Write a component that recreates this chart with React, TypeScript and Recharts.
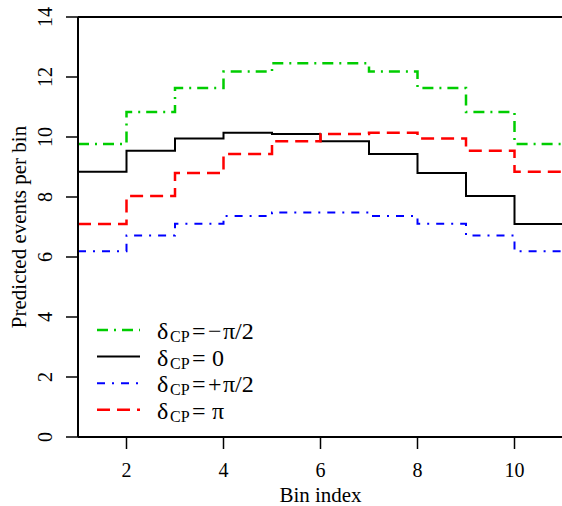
import React from "react";
import { LineChart, Line, XAxis, YAxis, ReferenceLine } from "recharts";

// bin edges 1..11, last value repeated so the final step reaches x = 11
const binEdges = [1, 2, 3, 4, 5, 6, 7, 8, 9, 10, 11];
const minusHalfPi = [9.77, 10.83, 11.63, 12.18, 12.46, 12.46, 12.18, 11.63, 10.83, 9.77, 9.77];
const zero = [8.84, 9.54, 9.95, 10.14, 10.1, 9.86, 9.43, 8.8, 8.03, 7.1, 7.1];
const plusHalfPi = [6.19, 6.72, 7.11, 7.37, 7.48, 7.48, 7.37, 7.11, 6.72, 6.19, 6.19];
const pi = [7.1, 8.03, 8.8, 9.43, 9.86, 10.1, 10.14, 9.95, 9.54, 8.84, 8.84];
const xTicks = [2, 4, 6, 8, 10];
const yTicks = [0, 2, 4, 6, 8, 10, 12, 14];

const data = binEdges.map((bin, i) => ({
  bin,
  minusHalfPi: minusHalfPi[i],
  zero: zero[i],
  plusHalfPi: plusHalfPi[i],
  pi: pi[i],
}));

const FONT = "'Liberation Serif', 'DejaVu Serif', serif";

// sign: "" when the value has no sign
const series = [
  { key: "minusHalfPi", color: "#00cd00", dash: "11 6 2 6", width: 2.5, sign: "\u2212", value: "\u03c0/2" },
  { key: "zero", color: "#000000", dash: undefined, width: 2, sign: "", value: "0" },
  { key: "plusHalfPi", color: "#0000ff", dash: "8 7 2 7", width: 2, sign: "+", value: "\u03c0/2" },
  { key: "pi", color: "#ff0000", dash: "13 7", width: 2.5, sign: "", value: "\u03c0" },
];

function YTick(props: any) {
  const { y, payload } = props;
  return (
    <text x={0} y={0} transform={`translate(52, ${y}) rotate(-90)`} textAnchor="middle"
      style={{ fontFamily: FONT, fontSize: 20, fill: "#000" }}>
      {payload.value}
    </text>
  );
}

function XTick(props: any) {
  const { x, payload } = props;
  return (
    <text x={x} y={477} textAnchor="middle" style={{ fontFamily: FONT, fontSize: 20, fill: "#000" }}>
      {payload.value}
    </text>
  );
}

function XTitle() {
  return (
    <text x={320.5} y={502} textAnchor="middle" style={{ fontFamily: FONT, fontSize: 21, fill: "#000" }}>
      Bin index
    </text>
  );
}

function YTitle() {
  return (
    <text x={0} y={0} transform="translate(26, 227) rotate(-90)" textAnchor="middle"
      style={{ fontFamily: FONT, fontSize: 21, fill: "#000" }}>
      Predicted events per bin
    </text>
  );
}

function LegendBox() {
  return (
    <svg width={200} height={125} style={{ position: "absolute", left: 90, top: 315 }}>
      {series.map((s, i) => {
        const cy = 15 + i * 26.6;
        const base = cy + 9;
        return (
          <g key={s.key} style={{ fontFamily: FONT, fill: "#000" }}>
            <line x1={7} x2={50} y1={cy} y2={cy} stroke={s.color} strokeWidth={s.width}
              strokeDasharray={s.dash} />
            <text x={67} y={base} style={{ fontSize: 24 }}>{"\u03b4"}</text>
            <text x={80} y={base + 3} style={{ fontSize: 16 }}>CP</text>
            <text x={102} y={base} style={{ fontSize: 24 }}>=</text>
            {s.sign ? (
              <>
                <text x={118} y={base} style={{ fontSize: 24 }}>{s.sign}</text>
                <text x={133} y={base} style={{ fontSize: 24 }}>{s.value}</text>
              </>
            ) : (
              <text x={122} y={base} style={{ fontSize: 24 }}>{s.value}</text>
            )}
          </g>
        );
      })}
    </svg>
  );
}

export default function App() {
  return (
    <div style={{ position: "absolute", left: 0, top: 0, width: 562, height: 506, overflow: "hidden", background: "#fff" }}>
      <LineChart width={570} height={506} data={data} margin={{ top: 17, right: 7, left: 0, bottom: 0 }}>
        <XAxis dataKey="bin" type="number" domain={[1, 11]} ticks={xTicks} height={69}
          axisLine={{ stroke: "#000", strokeWidth: 2 }} tickLine={{ stroke: "#000", strokeWidth: 1.5 }}
          tickSize={12} tick={<XTick />} interval={0} label={<XTitle />} />
        <YAxis type="number" domain={[0, 14]} ticks={yTicks} width={78}
          axisLine={{ stroke: "#000", strokeWidth: 2 }} tickLine={{ stroke: "#000", strokeWidth: 1.5 }}
          tickSize={12} tick={<YTick />} interval={0} label={<YTitle />} />
        <ReferenceLine y={14} stroke="#000" strokeWidth={2} />
        <ReferenceLine x={11} stroke="#000" strokeWidth={2} />
        {series.map((s) => (
          <Line key={s.key} type="stepAfter" dataKey={s.key} stroke={s.color} strokeWidth={s.width}
            strokeDasharray={s.dash} dot={false} activeDot={false} isAnimationActive={false} />
        ))}
      </LineChart>
      <LegendBox />
    </div>
  );
}
